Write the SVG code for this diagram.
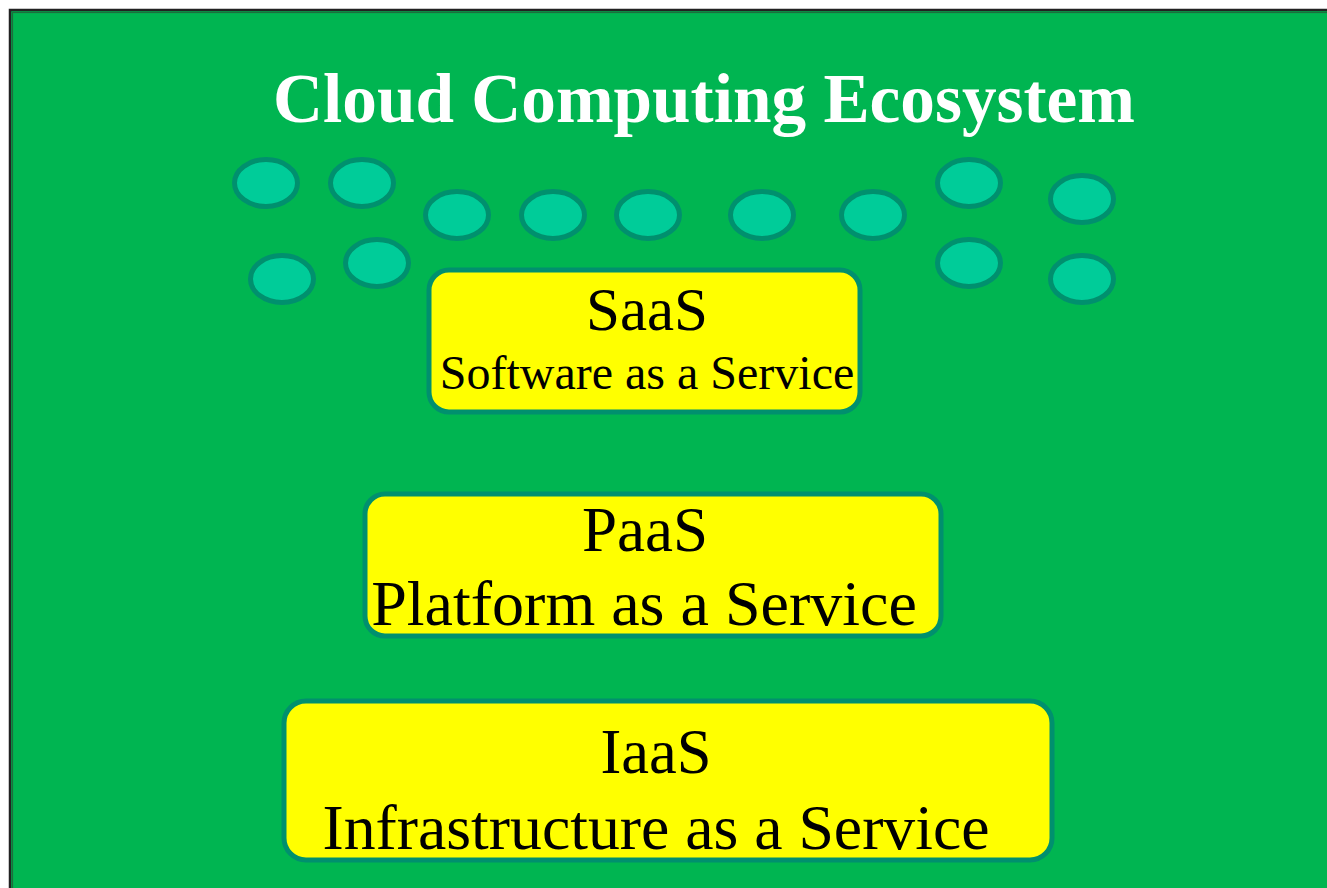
<svg xmlns="http://www.w3.org/2000/svg" width="1327" height="888" viewBox="0 0 1327 888">
<style>
.dot{fill:#00CC99;stroke:#00906E;stroke-width:5}
.box{fill:#FFFF00;stroke:#00906E;stroke-width:5}
.t{font-family:"Liberation Serif","Times New Roman",serif;fill:#000;text-anchor:middle}
.title{font-family:"Liberation Serif","Times New Roman",serif;font-weight:bold;fill:#fff;text-anchor:middle}
</style>
<rect x="0" y="0" width="1327" height="888" fill="#fff"/>
<rect x="10" y="10" width="1330" height="890" fill="#00B551" stroke="#222" stroke-width="2.5"/>
<rect x="12.5" y="12.5" width="1330" height="890" fill="none" stroke="#1d6e3d" stroke-width="1.2"/>
<text class="title" x="704" y="122" font-size="70" textLength="862" lengthAdjust="spacingAndGlyphs">Cloud Computing Ecosystem</text>
<g id="cloud-dots">
<ellipse class="dot" cx="266" cy="183" rx="31.5" ry="23.5"/>
<ellipse class="dot" cx="362" cy="183" rx="31.5" ry="23.5"/>
<ellipse class="dot" cx="457" cy="215" rx="31.5" ry="23.5"/>
<ellipse class="dot" cx="553" cy="215" rx="31.5" ry="23.5"/>
<ellipse class="dot" cx="648" cy="215" rx="31.5" ry="23.5"/>
<ellipse class="dot" cx="762" cy="215" rx="31.5" ry="23.5"/>
<ellipse class="dot" cx="873" cy="215" rx="31.5" ry="23.5"/>
<ellipse class="dot" cx="969" cy="183" rx="31.5" ry="23.5"/>
<ellipse class="dot" cx="1082" cy="199" rx="31.5" ry="23.5"/>
<ellipse class="dot" cx="282" cy="279" rx="31.5" ry="23.5"/>
<ellipse class="dot" cx="377" cy="263" rx="31.5" ry="23.5"/>
<ellipse class="dot" cx="969" cy="263" rx="31.5" ry="23.5"/>
<ellipse class="dot" cx="1082" cy="279" rx="31.5" ry="23.5"/>
</g>
<g id="saas">
<rect class="box" x="429" y="270" width="431" height="142" rx="20"/>
<text class="t" x="647" y="330" font-size="61">SaaS</text>
<text class="t" x="647" y="389" font-size="48">Software as a Service</text>
</g>
<g id="paas">
<rect class="box" x="365" y="494" width="576" height="142" rx="20"/>
<text class="t" x="645" y="551" font-size="63">PaaS</text>
<text class="t" x="644" y="625" font-size="64">Platform as a Service</text>
</g>
<g id="iaas">
<rect class="box" x="284" y="701" width="768" height="159" rx="22"/>
<text class="t" x="656" y="773" font-size="64" textLength="111" lengthAdjust="spacingAndGlyphs">IaaS</text>
<text class="t" x="656" y="849" font-size="64" textLength="667" lengthAdjust="spacingAndGlyphs">Infrastructure as a Service</text>
</g>
<g id="connectors"/>
</svg>
